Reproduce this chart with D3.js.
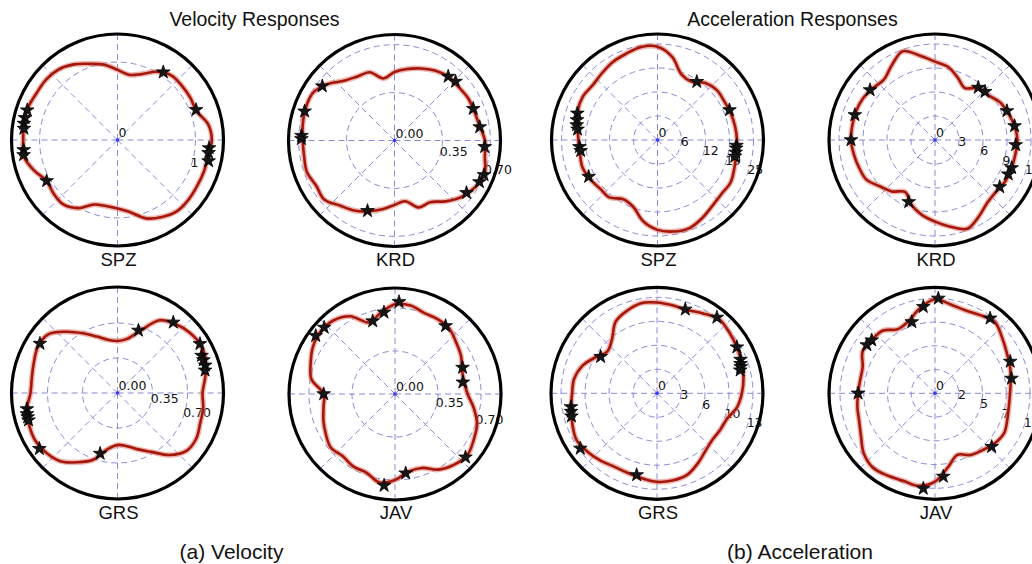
<!DOCTYPE html>
<html>
<head>
<meta charset="utf-8">
<script src="https://cdn.jsdelivr.net/npm/d3@7"></script>
<style>
  html, body { margin: 0; padding: 0; background: #fff; }
  svg { display: block; }
</style>
</head>
<body>
<svg id="chart" width="1032" height="564"></svg>
<script>
// ---------- data ----------
const thetaDeg = [0,10,20,30,40,50,60,70,80,90,100,110,120,130,140,150,160,170,
                  180,190,200,210,220,230,240,250,260,270,280,290,300,310,320,330,340,350];

const velSPZ = [1.21,1.18,1.08,1.08,1.08,1.08,1.01,0.90,0.85,0.90,0.98,1.04,1.12,1.18,1.20,1.20,1.22,1.22,
                1.21,1.22,1.14,1.05,1.07,1.08,1.01,0.88,0.86,0.88,0.94,1.07,1.14,1.19,1.19,1.18,1.18,1.18];
const velKRD = [0.66,0.63,0.62,0.62,0.61,0.61,0.59,0.56,0.53,0.50,0.46,0.53,0.54,0.57,0.64,0.69,0.69,0.68,
                0.67,0.67,0.68,0.66,0.67,0.62,0.59,0.55,0.51,0.47,0.45,0.52,0.52,0.58,0.64,0.68,0.70,0.67];
const velGRS = [0.85,0.89,0.94,0.96,0.94,0.90,0.84,0.66,0.55,0.52,0.54,0.60,0.69,0.80,0.91,0.92,0.89,0.87,
                0.87,0.92,0.94,0.95,0.93,0.89,0.80,0.71,0.57,0.52,0.54,0.60,0.68,0.81,0.90,0.91,0.88,0.87];
const velJAV = [0.59,0.57,0.58,0.62,0.65,0.69,0.70,0.70,0.73,0.73,0.67,0.62,0.73,0.78,0.79,0.77,0.73,0.69,
                0.58,0.59,0.62,0.65,0.68,0.66,0.68,0.68,0.73,0.70,0.64,0.64,0.71,0.75,0.77,0.74,0.71,0.65];
const accSPZ = [20.7,20.5,20.3,20.1,20.2,19.4,17.6,18.2,22.0,24.3,24.6,23.9,23.4,22.6,22.1,22.5,22.1,21.1,
                20.6,20.5,20.8,20.3,19.6,19.5,17.8,18.5,21.5,23.4,24.2,24.4,23.4,22.3,21.8,22.0,21.3,20.8];
const accKRD = [10.3,10.1,9.75,9.4,8.7,8.5,7.5,8.3,9.3,9.8,10.7,11.8,10.8,9.9,10.1,10.4,10.5,10.5,
                10.5,10.3,10.1,9.9,9.0,8.4,7.5,8.6,9.5,10.2,11.0,11.8,11.0,10.2,10.0,10.2,10.2,10.2];
const accGRS = [11.5,11.9,12.2,12.5,12.8,13.1,12.5,12.0,12.1,12.3,12.4,11.9,11.2,9.5,8.8,9.7,10.8,11.4,
                11.5,11.8,12.2,12.6,12.3,11.9,11.5,11.5,11.7,12.0,12.0,11.8,11.0,10.2,9.8,9.9,10.1,11.0];
const accJAV = [7.9,8.1,8.4,8.7,9.2,9.8,9.5,9.3,9.5,9.9,9.1,8.1,7.8,8.6,8.7,8.8,8.1,8.0,
                8.1,8.3,8.5,9.0,9.8,10.2,10.0,9.8,9.9,9.3,7.9,6.9,7.5,7.8,8.2,8.4,8.1,7.9];

// star markers: [angle in degrees (ccw from east), value]
const velSPZStars = [[56,1.05],[21,1.08],[-5,1.18],[-8,1.18],[-13,1.2],[-150,1.05],
                     [161.7,1.22],[166.5,1.22],[170,1.22],[173,1.21],[-174,1.21],[-171,1.22]];
const velKRDStars = [[50,0.61],[44,0.62],[22,0.62],[9,0.63],[-4,0.66],[-21,0.70],[-26,0.69],
                     [-36,0.65],[-111,0.55],[143,0.66],[162,0.69],[177,0.68],[179,0.68]];
const velGRSStars = [[51.7,0.90],[71.5,0.66],[30.8,0.96],[24,0.92],[21,0.92],[17.5,0.92],[14.5,0.905],
                     [147.5,0.92],[-170,0.92],[-167,0.93],[-165,0.93],[-163,0.93],[-144.5,0.96],[-106,0.63]];
const velJAVStars = [[53.4,0.69],[21.4,0.59],[9.8,0.56],[87.5,0.75],[97.7,0.67],[107,0.62],
                     [136.8,0.79],[143.7,0.80],[180,0.58],[-96.8,0.75],[-82.3,0.65],[-41.9,0.77]];
const accSPZStars = [[56,18.3],[22.6,20.3],[-4,20.6],[-6,20.6],[-9,20.6],[-12,20.6],
                     [161.6,22.0],[166,21.6],[169.5,21.4],[172.4,21.0],[-175,20.4],[-172,20.2],[-152,20.3]];
const accKRDStars = [[50.5,8.5],[44,8.7],[22,9.7],[10,10.1],[-3.5,10.1],[-20,10.2],[-25,10.1],
                     [-36,10.0],[-113,8.4],[180,10.5],[162.6,10.5],[142.4,10.25]];
const accGRSStars = [[71.4,12.0],[51.7,13.1],[30,12.5],[22,12.2],[19.5,12.0],[17.5,11.9],[15.5,11.7],
                     [147,9.1],[-171,11.8],[-168,11.9],[-165,12.0],[-144.3,12.8],[-104,11.4]];
const accJAVStars = [[88,10.0],[97.7,9.2],[108,7.9],[140,8.7],[144.7,8.8],[180,8.1],[53.7,9.8],
                     [22.9,8.6],[11,8.2],[-43.3,8.2],[-84.3,8.8],[-97,10.1]];

// radial ticks and labels
const velSPZTicks = [1],                    velSPZLabels = ["0","1"];
const velKRDTicks = [0.35,0.70],            velKRDLabels = ["0.00","0.35","0.70"];
const velGRSTicks = [0.35,0.70],            velGRSLabels = ["0.00","0.35","0.70"];
const velJAVTicks = [0.35,0.70],            velJAVLabels = ["0.00","0.35","0.70"];
const accSPZTicks = [6.25,12.5,18.75,25],   accSPZLabels = ["0","6","12","19","25"];
const accKRDTicks = [3,6,9,12],             accKRDLabels = ["0","3","6","9","12"];
const accGRSTicks = [3.25,6.5,9.75,13],     accGRSLabels = ["0","3","6","10","13"];
const accJAVTicks = [2.5,5,7.5,10],         accJAVLabels = ["0","2","5","7","10"];

const groupTitles = ["Velocity Responses","Acceleration Responses"];
const captions = ["(a) Velocity","(b) Acceleration"];

// ---------- layout ----------
const svg = d3.select("#chart");
const R = 106;
const panels = [
  {name:"SPZ", cx:117.5, cy:140,   rMax:1.36,  vals:velSPZ, stars:velSPZStars, ticks:velSPZTicks, labels:velSPZLabels},
  {name:"KRD", cx:394.5, cy:140.5, rMax:0.774, vals:velKRD, stars:velKRDStars, ticks:velKRDTicks, labels:velKRDLabels},
  {name:"SPZ", cx:657.5, cy:140,   rMax:27.6,  vals:accSPZ, stars:accSPZStars, ticks:accSPZTicks, labels:accSPZLabels},
  {name:"KRD", cx:935,   cy:140,   rMax:13.25, vals:accKRD, stars:accKRDStars, ticks:accKRDTicks, labels:accKRDLabels},
  {name:"GRS", cx:117.5, cy:393,   rMax:1.06,  vals:velGRS, stars:velGRSStars, ticks:velGRSTicks, labels:velGRSLabels},
  {name:"JAV", cx:395,   cy:394,   rMax:0.862, vals:velJAV, stars:velJAVStars, ticks:velJAVTicks, labels:velJAVLabels},
  {name:"GRS", cx:657,   cy:393.3, rMax:14.36, vals:accGRS, stars:accGRSStars, ticks:accGRSTicks, labels:accGRSLabels},
  {name:"JAV", cx:935,   cy:393.3, rMax:11.16, vals:accJAV, stars:accJAVStars, ticks:accJAVTicks, labels:accJAVLabels}
];

const toRad = d => (90 - d) * Math.PI / 180; // d3 radial angle (clockwise from north)
const gridColor = "#8a8ad6";

panels.forEach(p => {
  const g = svg.append("g").attr("transform", `translate(${p.cx},${p.cy})`);
  const r = d3.scaleLinear().domain([0, p.rMax]).range([0, R]);

  // grid rings
  g.selectAll("circle.ring").data(p.ticks).join("circle")
    .attr("r", d => r(d)).attr("fill", "none")
    .attr("stroke", gridColor).attr("stroke-width", 1).attr("stroke-dasharray", "6,4");
  // spokes
  g.selectAll("line.spoke").data(d3.range(0, 360, 45)).join("line")
    .attr("x1", 0).attr("y1", 0)
    .attr("x2", d => R * Math.cos(d * Math.PI / 180))
    .attr("y2", d => -R * Math.sin(d * Math.PI / 180))
    .attr("stroke", gridColor).attr("stroke-width", 1).attr("stroke-dasharray", "6,4");
  g.append("circle").attr("r", 1.8).attr("fill", "#3a3aff");

  // radial tick labels
  const labAng = 22.5 * Math.PI / 180;
  const tickPos = [0].concat(p.ticks);
  g.selectAll("text.rl").data(tickPos).join("text")
    .attr("x", d => r(d) * Math.cos(labAng) + 1)
    .attr("y", d => r(d) * Math.sin(labAng) - 3)
    .attr("font-family", "DejaVu Sans, sans-serif").attr("font-size", 12.5)
    .attr("fill", "#111")
    .text((d, i) => p.labels[i]);

  // response curve
  const pts = thetaDeg.map((t, i) => ({t, v: p.vals[i]}));
  const line = d3.lineRadial()
    .angle(d => toRad(d.t)).radius(d => r(d.v))
    .curve(d3.curveCatmullRomClosed.alpha(0.5));
  g.append("path").attr("d", line(pts)).attr("fill", "none")
    .attr("stroke", "#e07a70").attr("stroke-width", 5.5).attr("stroke-opacity", 0.55);
  g.append("path").attr("d", line(pts)).attr("fill", "none")
    .attr("stroke", "#a5170b").attr("stroke-width", 2.6);

  // stars
  const star = d3.symbol().type(d3.symbolStar).size(58);
  g.selectAll("path.star").data(p.stars).join("path")
    .attr("d", star)
    .attr("transform", d => {
      const a = d[0] * Math.PI / 180;
      return `translate(${r(d[1]) * Math.cos(a)},${-r(d[1]) * Math.sin(a)})`;
    })
    .attr("fill", "#161616").attr("stroke", "#000").attr("stroke-width", 0.8);

  // frame
  g.append("circle").attr("r", R).attr("fill", "none")
    .attr("stroke", "#000").attr("stroke-width", 3.2);

  // station name
  svg.append("text").attr("x", p.cx + 1).attr("y", p.cy < 300 ? 266 : 519)
    .attr("text-anchor", "middle")
    .attr("font-family", "Liberation Sans, Arial, sans-serif").attr("font-size", 18.5)
    .attr("fill", "#111").text(p.name);
});

// group titles
svg.selectAll("text.title").data(groupTitles).join("text")
  .attr("x", (d, i) => [254.5, 792.5][i]).attr("y", 26)
  .attr("text-anchor", "middle")
  .attr("font-family", "Liberation Sans, Arial, sans-serif").attr("font-size", 19.5)
  .attr("fill", "#111").text(d => d);

// captions
svg.selectAll("text.cap").data(captions).join("text")
  .attr("x", (d, i) => [231.5, 800][i]).attr("y", 559)
  .attr("text-anchor", "middle")
  .attr("font-family", "Liberation Sans, Arial, sans-serif").attr("font-size", 21)
  .attr("fill", "#111").text(d => d);
</script>
</body>
</html>
